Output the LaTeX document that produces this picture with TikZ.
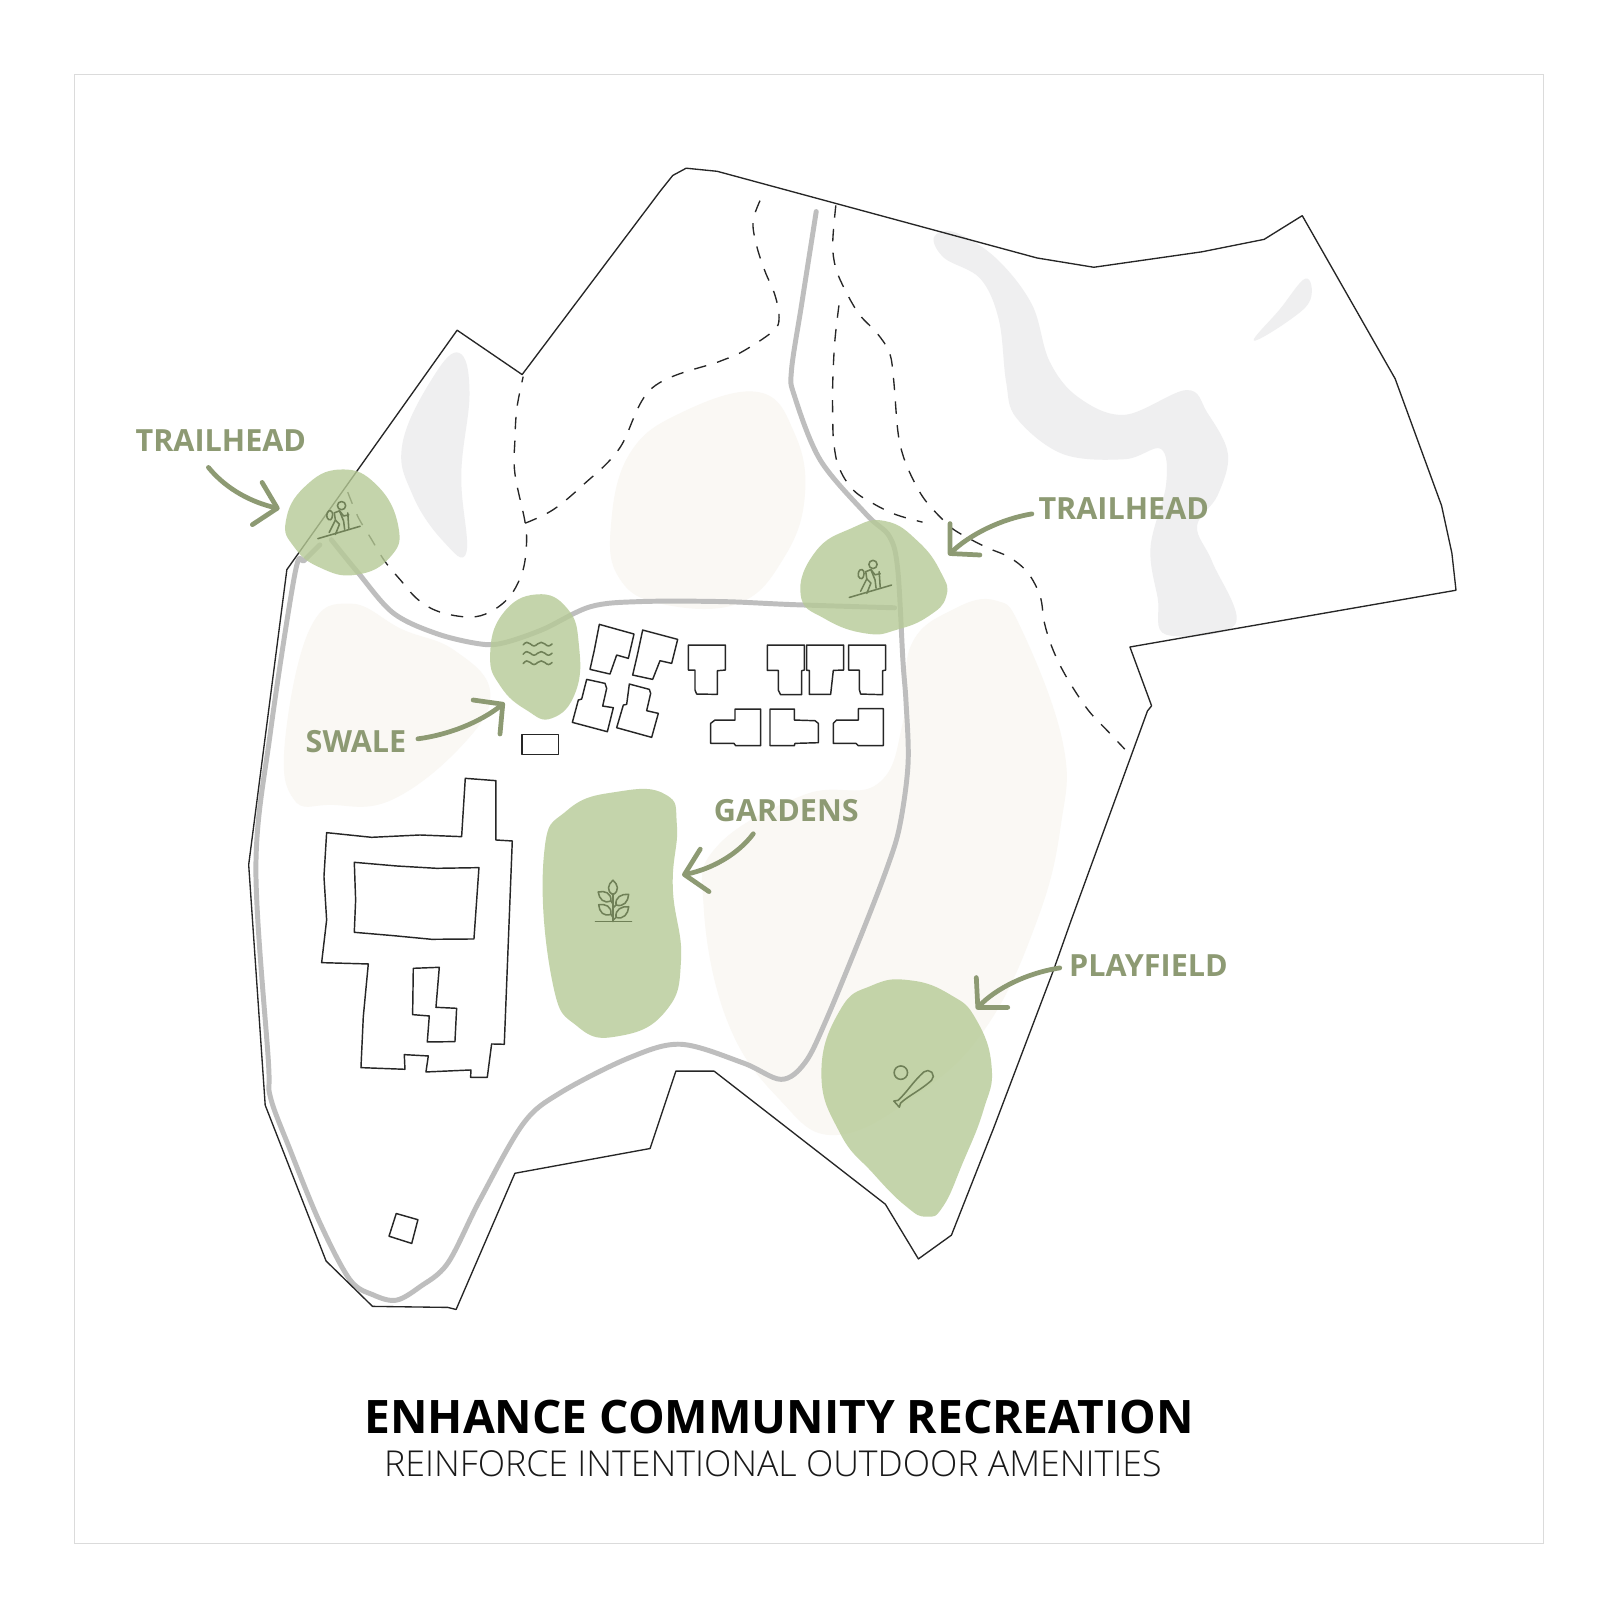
\documentclass[tikz,border=0pt]{standalone}
\usepackage{fontspec}
\setmainfont{Open Sans}
\newfontfamily\lightfont{Open Sans Light}
\usepackage{tikz}
\usetikzlibrary{arrows.meta, positioning}
\definecolor{leaf}{HTML}{B6CA96}
\definecolor{sand}{HTML}{FAF8F4}
\definecolor{mist}{HTML}{EFEFF0}
\definecolor{road}{HTML}{BEBEBE}
\definecolor{olive}{HTML}{8D9A73}
\definecolor{icon}{HTML}{6F8057}
\tikzset{
  zone/.style={fill=leaf, fill opacity=0.8},
  openspace/.style={fill=sand},
  pond/.style={fill=mist},
  roadway/.style={draw=road, line width=2.4pt, line cap=round, line join=round},
  boundary/.style={draw=black!85, line width=0.65pt, line join=round},
  trail/.style={draw=black!85, line width=0.65pt, dash pattern=on 6pt off 5.5pt},
  bldg/.style={draw=black!85, line width=0.7pt, line join=round, fill=white},
  pointer/.style={draw=olive, line width=2.3pt, line cap=round, -{Straight Barb[length=10pt, width=21pt, round]}},
  callout/.style={text=olive, font=\fontsize{14.8}{16}\selectfont\bfseries, inner sep=0pt},
  glyph/.style={draw=icon, line width=0.75pt, line cap=round, line join=round},
  hiker/.pic={
    \draw[glyph] (1,-15) circle (4);
    \draw[glyph] (-22,17) -- (19,5);
    \draw[glyph, rounded corners=1.5] (-12,-11) -- (-7,-9) -- (-9,0) -- (-14,-3) -- cycle;
    \draw[glyph] (-6,-8) -- (-1,-10) -- (3,-5) -- (8,-6);
    \draw[glyph] (-6,-8) -- (-5,-1) -- (-11,11);
    \draw[glyph] (-5,-1) -- (-1,3) -- (-5,13);
    \draw[glyph] (-1,-10) -- (3,0) -- (4,8);
    \draw[glyph] (7,-8) -- (8,7);
  },
  sprig/.pic={
    \draw[glyph] (-17,0) -- (18,0);
    \draw[glyph] (0,0) -- (0,-27);
    \draw[glyph] (0,-1) -- (3,-4);
    \draw[glyph] (0,-4) -- (-2,-7);
    \draw[glyph] (0,-13) -- (3,-16);
    \draw[glyph] (0,-17) -- (-2,-20);
    \foreach \x/\y/\a/\l in {0/-26/90/14, -2/-20/145/15, 3/-16/40/16, -2/-7/142/15, 3/-4/40/16}{
      \draw[glyph, shift={(\x,\y)}, rotate=\a] (0,0) .. controls (\l*0.25,6.5) and (\l*0.7,5) .. (\l,0) .. controls (\l*0.7,-5) and (\l*0.25,-6.5) .. (0,0);
    }
  },
  ripple/.pic={
    \foreach \y in {-9,0,9}{
      \draw[glyph] (-14,\y+1) sin (-10.5,\y-1.5) cos (-7,\y) sin (-3.5,\y+2) cos (0,\y) sin (3.5,\y-1.5) cos (7,\y) sin (10.5,\y+2) cos (14,\y);
    }
  },
  batball/.pic={
    \draw[glyph] (3,-29.5) circle (6.5);
    \draw[glyph, rotate=42] (-1.5,-4) -- (2,-1.8) .. controls (14,-1.8) and (24,-5.5) .. (39,-5.5) arc[start angle=-90, end angle=90, radius=5.5] .. controls (24,5.5) and (14,1.8) .. (2,1.8) -- (-1.5,4) -- cycle;
  }
}
\begin{document}
\begin{tikzpicture}[x=0.5pt, y=-0.5pt]
    \useasboundingbox (0,0) rectangle (1568,1568);
    \fill[white] (0,0) rectangle (1568,1568);
    \draw[black!14, line width=0.5pt] (72,72) rectangle (1496,1496);

    % Open space
    \fill[openspace] plot[smooth cycle, tension=0.7] coordinates {(592,510) (610,440) (660,400) (735,380) (770,420) (780,480) (760,540) (715,585) (640,585) (600,560)};
    \fill[openspace] plot[smooth cycle, tension=0.7] coordinates {(276,720) (300,610) (340,585) (390,610) (440,630) (475,670) (450,720) (380,775) (320,780) (285,775)};
    \fill[openspace] plot[smooth cycle, tension=0.7] coordinates {(883,625) (925,590) (965,582) (990,610) (1030,720) (1028,800) (1005,892) (956,995) (890,1060) (810,1100) (755,1065) (705,990) (682,880) (695,820) (780,770) (850,760) (875,700)};

    % Wetlands
    \fill[pond] plot[smooth cycle, tension=0.7] coordinates {(390,430) (420,365) (445,342) (455,380) (447,460) (452,535) (430,525) (400,480)};
    \fill[pond] plot[smooth cycle, tension=0.6] coordinates {(905,230) (925,225) (965,250) (1000,295) (1017,350) (1045,385) (1090,402) (1150,378) (1170,400) (1190,440) (1180,480) (1160,510) (1175,545) (1197,605) (1130,615) (1122,580) (1115,530) (1130,470) (1125,435) (1090,445) (1030,440) (985,405) (975,370) (968,310) (950,270) (915,250)};
    \fill[pond] plot[smooth cycle, tension=0.7] coordinates {(1215,330) (1240,300) (1265,270) (1270,290) (1250,310)};

    % Roads
    \draw[roadway] plot[smooth, tension=0.55] coordinates {(791,205) (777,294) (767,359) (770,384) (795,446) (840,499) (862,520) (870,552) (875,640) (878,680) (880,740) (872,800) (860,840) (835,905) (800,990) (780,1030) (757,1046) (720,1030) (660,1012) (610,1025) (543,1059) (507,1089) (465,1163) (434,1224) (407,1247) (384,1260) (362,1255) (339,1240) (310,1185) (281,1114) (262,1063) (260,1027) (248,840) (262,710) (286,555) (295,543) (310,528)};
    \draw[roadway] plot[smooth, tension=0.55] coordinates {(321,523) (347,555) (381,594) (423,614) (465,624) (488,623) (526,610) (572,588) (620,583) (700,583) (770,586) (867,589)};

    % Site boundary
    \draw[boundary] (640,185) -- (652,170) -- (665,163) -- (695,166) -- (1005,250) -- (1060,259) -- (1165,244) -- (1225,232) -- (1262,209) -- (1352,367) -- (1397,490) -- (1407,536) -- (1411,572) -- (1095,627) -- (1116,684) -- (1112,689) -- (1038,892) -- (1021,940) -- (963,1093) -- (922,1197) -- (890,1220) -- (858,1167) -- (692,1038) -- (655,1038) -- (630,1113) -- (499,1137) -- (442,1269) -- (434,1267) -- (361,1266) -- (316,1222) -- (257,1071) -- (241,838) -- (278,552) -- (443,320) -- (506,363) -- cycle;

    % Trails
    \draw[trail] plot[smooth, tension=0.6] coordinates {(337,477) (347,501) (359,521) (373,544) (388,562) (405,581) (426,593) (455,598) (475,593) (494,578) (506,555) (510,531) (509,507) (499,459) (499,426) (501,395) (507,365)};
    \draw[trail] plot[smooth, tension=0.6] coordinates {(509,507) (536,494) (565,470) (600,435) (632,376) (698,350) (719,341) (749,321) (755,308) (751,286) (741,262) (733,237) (730,213) (740,187)};
    \draw[trail] plot[smooth, tension=0.6] coordinates {(810,199) (807,236) (810,260) (820,283) (833,305) (850,323) (862,342) (866,368) (870,417) (875,441) (884,463) (896,484) (914,504) (927,515) (955,530) (978,540) (996,555) (1008,578) (1012,603) (1019,626) (1029,648) (1042,670) (1056,690) (1073,708) (1090,726)};
    \draw[trail] plot[smooth, tension=0.6] coordinates {(813,296) (809,331) (807,371) (807,405) (808,429) (813,453) (827,475) (848,489) (869,499) (894,506)};

    % Amenity zones
    \fill[zone] plot[smooth cycle, tension=0.8] coordinates {(277,505) (295,472) (330,455) (365,470) (386,510) (378,540) (345,557) (310,550) (285,530)};
    \fill[zone] plot[smooth cycle, tension=0.8] coordinates {(475,635) (487,595) (520,576) (550,590) (561,625) (558,670) (535,696) (510,688) (485,665)};
    \fill[zone] plot[smooth cycle, tension=0.8] coordinates {(776,577) (790,535) (825,512) (858,505) (890,525) (912,555) (917,578) (900,597) (870,610) (840,614) (800,600)};
    \fill[zone] plot[smooth cycle, tension=0.8] coordinates {(527,830) (550,785) (600,767) (645,770) (656,800) (652,860) (660,930) (645,980) (600,1004) (560,995) (535,950)};
    \fill[zone] plot[smooth cycle, tension=0.8] coordinates {(796,1040) (814,979) (845,955) (882,950) (921,964) (946,988) (961,1034) (953,1076) (933,1127) (914,1169) (898,1179) (878,1169) (846,1137) (814,1098)};

    % Townhomes
    \begin{scope}[shift={(542.7,581.5)}, x=0.1615pt, y=-0.1615pt]
        \draw[bldg] (118,73) -- (222,102) -- (205,175) -- (170,165) -- (150,222) -- (90,208) -- (103,150) -- cycle;
        \draw[bldg] (248,90) -- (353,118) -- (335,190) -- (300,182) -- (278,238) -- (218,225) -- (232,165) -- cycle;
        \draw[bldg] (80,238) -- (135,250) -- (140,265) -- (128,318) -- (160,323) -- (142,395) -- (37,367) -- (55,300) -- (65,297) -- cycle;
        \draw[bldg] (208,252) -- (268,268) -- (272,280) -- (260,332) -- (295,340) -- (275,412) -- (170,383) -- (190,315) -- (200,313) -- cycle;
        \draw[bldg] (385,135) -- (496,135) -- (496,210) -- (472,212) -- (472,283) -- (410,282) -- (405,270) -- (405,210) -- (385,210) -- cycle;
        \draw[bldg] (622,135) -- (733,135) -- (733,210) -- (725,212) -- (725,284) -- (662,284) -- (655,270) -- (655,211) -- (622,211) -- cycle;
        \draw[bldg] (740,135) -- (851,135) -- (851,210) -- (820,211) -- (812,283) -- (748,283) -- (748,211) -- (740,211) -- cycle;
        \draw[bldg] (866,135) -- (977,135) -- (977,210) -- (968,212) -- (968,284) -- (902,282) -- (898,268) -- (898,210) -- (866,210) -- cycle;
        \draw[bldg] (525,327) -- (602,327) -- (602,437) -- (527,437) -- (522,430) -- (452,430) -- (452,370) -- (465,360) -- (525,360) -- cycle;
        \draw[bldg] (630,327) -- (703,327) -- (703,360) -- (765,362) -- (775,370) -- (775,428) -- (705,430) -- (703,437) -- (630,437) -- cycle;
        \draw[bldg] (895,326) -- (970,326) -- (970,437) -- (895,437) -- (888,430) -- (820,430) -- (820,370) -- (830,360) -- (895,360) -- cycle;
    \end{scope}
    \draw[bldg] (506,712) rectangle (541,731);
    \draw[bldg] (384,1176) -- (405,1182) -- (399,1205) -- (377,1198) -- cycle;

    % Main building
    \begin{scope}[shift={(290.7,736.5)}, x=0.1615pt, y=-0.1615pt]
        \draw[bldg] (80,218) -- (215,232) -- (360,225) -- (485,230) -- (496,55) -- (588,62) -- (588,240) -- (637,243) -- (613,853) -- (575,852) -- (562,952) -- (512,952) -- (513,930) -- (378,936) -- (385,888) -- (313,884) -- (315,928) -- (183,923) -- (190,770) -- (205,612) -- (65,608) -- (80,480) -- (72,350) -- cycle;
        \draw[bldg] (163,307) -- (290,318) -- (410,325) -- (537,323) -- (522,537) -- (395,538) -- (280,527) -- (163,517) -- (167,420) -- cycle;
        \draw[bldg] (340,625) -- (418,622) -- (408,742) -- (470,745) -- (465,845) -- (382,846) -- (388,768) -- (338,764) -- cycle;
    \end{scope}

    % Icons
    \pic at (330,505) {hiker};
    \pic at (845,562) {hiker};
    \pic at (521,633) {ripple};
    \pic at (594,893) {sprig};
    \pic at (870,1069) {batball};

    % Labels
    \node[callout] (trailheadw) at (214,427) {TRAILHEAD};
    \node[callout] (trailheade) at (1089,493) {TRAILHEAD};
    \node[callout] (swale) at (345,719) {SWALE};
    \node[callout] (gardens) at (762,786) {GARDENS};
    \node[callout] (playfield) at (1113,936) {PLAYFIELD};

    % Targets
    \coordinate (zonew) at (271,493);
    \coordinate (zonee) at (919,538);
    \coordinate (zoneswale) at (489,681);
    \coordinate (zonegarden) at (661,848);
    \coordinate (zoneplay) at (946,978);

    % Callouts
    \draw[pointer] ([shift={(-12,26)}]trailheadw.center) .. controls (220,475) and (245,487) .. (zonew);
    \draw[pointer] ([shift={(-89,5)}]trailheade.center) .. controls (970,503) and (940,518) .. (zonee);
    \draw[pointer] ([shift={(60,-3)}]swale.center) .. controls (435,712) and (465,700) .. (zoneswale);
    \draw[pointer] ([shift={(-32,22)}]gardens.center) .. controls (715,828) and (690,842) .. (zonegarden);
    \draw[pointer] ([shift={(-86,2)}]playfield.center) .. controls (995,943) and (965,958) .. (zoneplay);

    % Title
    \node[font=\fontsize{22.35}{26}\selectfont\bfseries, text=black, inner sep=0pt] (title) at (755,1373) {ENHANCE COMMUNITY RECREATION};
    \node[font=\fontsize{17.3}{20}\selectfont\lightfont, text=black!90, inner sep=0pt, below=8pt of title, xshift=-3pt] (subtitle) {REINFORCE INTENTIONAL OUTDOOR AMENITIES};
\end{tikzpicture}
\end{document}
